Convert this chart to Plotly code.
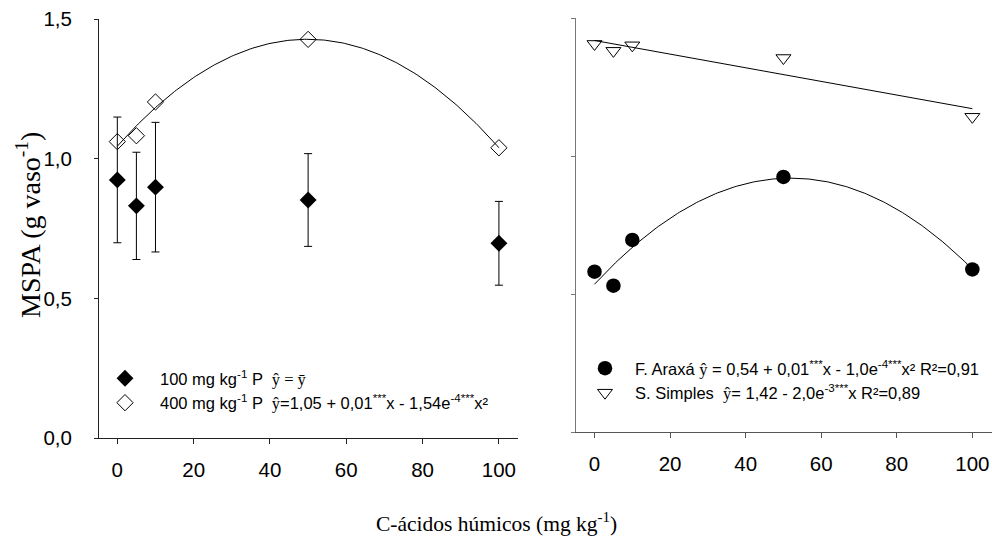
import numpy as np
import plotly.graph_objects as go

# ---------------- data ----------------
doses = [0, 5, 10, 50, 100]                      # C-ácidos húmicos (mg kg-1)
p100 = [0.924, 0.831, 0.898, 0.852, 0.697]       # 100 mg kg-1 P
p100_err = [0.225, 0.192, 0.232, 0.166, 0.150]
p400 = [1.061, 1.082, 1.203, 1.427, 1.039]       # 400 mg kg-1 P
araxa = [0.581, 0.530, 0.696, 0.924, 0.589]      # F. Araxá
simples = [1.406, 1.381, 1.401, 1.355, 1.142]    # S. Simples

x_ticks = [0, 20, 40, 60, 80, 100]
y_ticks = [0.0, 0.5, 1.0, 1.5]
y_ticktext = ["0,0", "0,5", "1,0", "1,5"]

name_100 = "100 mg kg<sup>-1</sup> P  <span style='font-family:Liberation Serif'>ŷ = ȳ</span>"
name_400 = ("400 mg kg<sup>-1</sup> P  <span style='font-family:Liberation Serif'>ŷ</span>"
            "=1,05 + 0,01<sup>***</sup>x - 1,54e<sup>-4***</sup>x²")
name_araxa = ("F. Araxá <span style='font-family:Liberation Serif'>ŷ</span>"
              " = 0,54 + 0,01<sup>***</sup>x - 1,0e<sup>-4***</sup>x² R²=0,91")
name_simples = ("S. Simples  <span style='font-family:Liberation Serif'>ŷ</span>"
                "= 1,42 - 2,0e<sup>-3***</sup>x R²=0,89")

# fitted trend lines from the data
xf = np.linspace(0, 100, 201)
fit400 = np.polyval(np.polyfit(doses, p400, 2), xf)
fitara = np.polyval(np.polyfit(doses, araxa, 2), xf)
fitsim = np.polyval(np.polyfit(doses, simples, 1), xf)

W, H = 992, 542
SANS = "Liberation Sans"
SERIF = "Liberation Serif"

fig = go.Figure()

# left panel
fig.add_trace(go.Scatter(x=xf, y=fit400, mode="lines", line=dict(color="black", width=1),
                         showlegend=False, hoverinfo="skip", xaxis="x", yaxis="y"))
fig.add_trace(go.Scatter(x=doses, y=p100, mode="markers", name=name_100,
                         marker=dict(symbol="diamond", size=13, color="black"),
                         error_y=dict(type="data", array=p100_err, color="black", thickness=1, width=4),
                         xaxis="x", yaxis="y", legend="legend"))
fig.add_trace(go.Scatter(x=doses, y=p400, mode="markers", name=name_400,
                         marker=dict(symbol="diamond", size=12.5, color="rgba(0,0,0,0)",
                                     line=dict(color="black", width=1)),
                         xaxis="x", yaxis="y", legend="legend"))

# right panel
fig.add_trace(go.Scatter(x=xf, y=fitsim, mode="lines", line=dict(color="black", width=1),
                         showlegend=False, hoverinfo="skip", xaxis="x2", yaxis="y2"))
fig.add_trace(go.Scatter(x=xf, y=fitara, mode="lines", line=dict(color="black", width=1),
                         showlegend=False, hoverinfo="skip", xaxis="x2", yaxis="y2"))
fig.add_trace(go.Scatter(x=doses, y=araxa, mode="markers", name=name_araxa,
                         marker=dict(symbol="circle", size=14.5, color="black"),
                         xaxis="x2", yaxis="y2", legend="legend2"))
fig.add_trace(go.Scatter(x=doses, y=simples, mode="markers", name=name_simples,
                         marker=dict(symbol="triangle-down", size=13, color="rgba(0,0,0,0)",
                                     line=dict(color="black", width=1)),
                         xaxis="x2", yaxis="y2", legend="legend2"))

axis_common = dict(showgrid=False, zeroline=False, showline=True, ticks="outside",
                   automargin=False, tickfont=dict(family=SANS, size=20.5, color="black"))

fig.update_layout(
    width=W, height=H,
    margin=dict(l=0, r=0, t=0, b=0, pad=0, autoexpand=False),
    paper_bgcolor="white", plot_bgcolor="white",
    xaxis=dict(domain=[99 / W, 518 / W], range=[-4.8, 105.0], tickvals=x_ticks,
               linecolor="#222", tickcolor="#222", ticklen=5, ticklabelstandoff=8,
               anchor="y", **axis_common),
    yaxis=dict(domain=[(H - 438) / H, (H - 19) / H], range=[0, 1.5], tickvals=y_ticks,
               ticktext=y_ticktext, linecolor="#222", tickcolor="#222", ticklen=4,
               ticklabelstandoff=18, anchor="x", **axis_common),
    xaxis2=dict(domain=[576 / W, 1.0], range=[-4.9, 105.2], tickvals=x_ticks,
                linecolor="#555", tickcolor="#555", ticklen=5, ticklabelstandoff=8,
                anchor="y2", **axis_common),
    yaxis2=dict(domain=[(H - 432) / H, (H - 18) / H], range=[0, 1.5], tickvals=y_ticks,
                showticklabels=False, linecolor="#777", tickcolor="#777", ticklen=4,
                anchor="x2", **axis_common),
    legend=dict(x=90 / W, y=(H - 361) / H, xanchor="left", yanchor="top",
                font=dict(family=SANS, size=16.5, color="black"), bgcolor="rgba(0,0,0,0)",
                itemwidth=60, tracegroupgap=0),
    legend2=dict(x=575 / W, y=(H - 351) / H, xanchor="left", yanchor="top",
                 font=dict(family=SANS, size=16.5, color="black"), bgcolor="rgba(0,0,0,0)",
                 itemwidth=50, tracegroupgap=0),
    annotations=[
        dict(text="MSPA (g vaso<sup>-1</sup>)", x=28 / W, y=(H - 225) / H, xref="paper", yref="paper",
             textangle=-90, showarrow=False, font=dict(family=SERIF, size=28, color="black"),
             xanchor="center", yanchor="middle"),
        dict(text="C-ácidos húmicos (mg kg<sup>-1</sup>)", x=496 / W, y=(H - 522) / H,
             xref="paper", yref="paper", showarrow=False,
             font=dict(family=SERIF, size=21.5, color="black"), xanchor="center", yanchor="middle"),
    ],
)

fig.write_html("out.html")
